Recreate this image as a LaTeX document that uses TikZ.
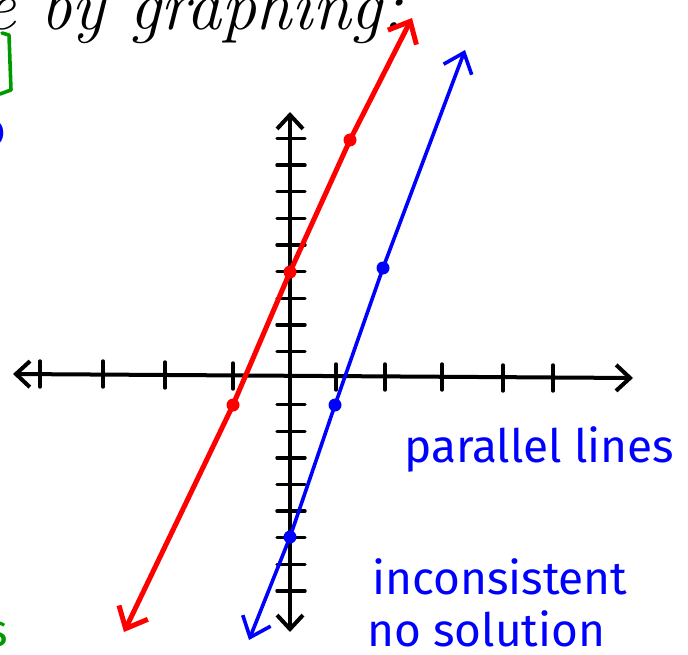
\documentclass[tikz,border=0pt]{standalone}
\usepackage{fontspec}
\newfontfamily\handfont{Fira Sans}
\usetikzlibrary{arrows.meta}

\begin{document}
\begin{tikzpicture}[x=1pt,y=-1pt,line cap=round,line join=round,
    axis/.style={line width=4pt,black,{Straight Barb[length=14pt,width=26pt]}-{Straight Barb[length=14pt,width=26pt]}},
    tick/.style={line width=3.4pt,black},
    redline/.style={line width=5pt,red,{Straight Barb[length=18pt,width=32pt]}-{Straight Barb[length=18pt,width=32pt]}},
    blueline/.style={line width=3.6pt,blue,{Straight Barb[length=18pt,width=30pt]}-{Straight Barb[length=18pt,width=30pt]}},
    dot/.style={circle,fill,inner sep=0pt,minimum size=13pt},
    hand/.style={font=\handfont\fontsize{46}{48}\selectfont,anchor=base west,inner sep=0pt}]
  \useasboundingbox (0,0) rectangle (688,655);
  % cut-off text at the edges
  \node[anchor=base west,inner sep=0pt,font=\fontsize{70}{72}\selectfont\itshape] (title) at (-16,30) {e by graphing:};
  \node[hand,text=green!60!black,anchor=base] (sfrag) at (-3,646) {s};
  \node[hand,text=blue,anchor=base] (ofrag) at (-7,146) {o};
  \draw[green!60!black,line width=3.6pt] (2,33) -- (9,35) -- (11,90) -- (0,94);
  % axes
  \coordinate (o) at (290,378);
  \coordinate (xl) at (13,374);
  \coordinate (xr) at (633,378);
  \coordinate (yt) at (290,112);
  \coordinate (yb) at (290,632);
  \draw[axis] (xl) -- (xr);
  \draw[axis] (yb) -- (yt);
  \foreach \x/\y in {40/374,103/374,165/375,233/376,336/377,385/377,442/377,503/378,553/378}
    \draw[tick] (\x,\y-13) -- (\x,\y+13);
  \foreach \k in {1,...,9}
    \draw[tick] (277,378-26.6*\k) -- (305,378-26.6*\k);
  \foreach \k in {1,...,8}
    \draw[tick] (277,378+26.6*\k) -- (305,378+26.6*\k);
  % y = 5x + 4
  \node[dot,red] (r1) at (233,405) {};
  \node[dot,red] (r2) at (290,272) {};
  \node[dot,red] (r3) at (350,140) {};
  \coordinate (rlo) at (124,632);
  \coordinate (rhi) at (412,18);
  \draw[redline] (rlo) -- (r1.center) -- (r2.center) -- (r3.center) -- (rhi);
  % y = 5x - 6
  \node[dot,blue] (b1) at (290,537) {};
  \node[dot,blue] (b2) at (335,405) {};
  \node[dot,blue] (b3) at (383,268) {};
  \coordinate (blo) at (249,640);
  \coordinate (bhi) at (465,50);
  \draw[blueline] (blo) -- (b1.center) -- (b2.center) -- (b3.center) -- (bhi);
  % labels
  \node[hand,text=blue] (par) at (404,462) {parallel lines};
  \node[hand,text=blue] (inc) at (372,594) {inconsistent};
  \node[hand,text=blue] (nos) at (367,646) {no solution};
\end{tikzpicture}
\end{document}
